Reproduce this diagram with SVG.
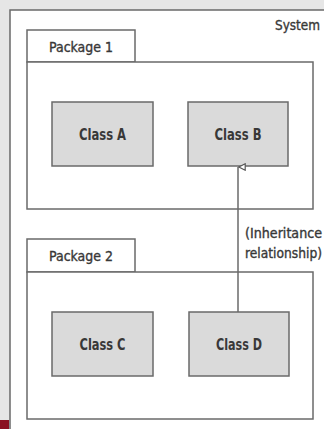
<svg xmlns="http://www.w3.org/2000/svg" width="324" height="429" viewBox="0 0 324 429">
<style>
.pkg{fill:#fff;stroke:#6a6a6a;stroke-width:1.5}
.cls{fill:#dadada;stroke:#6a6a6a;stroke-width:1.5}
text{font-family:"DejaVu Sans Condensed","Liberation Sans",Arial,sans-serif;fill:#383838;font-size:14px;stroke:#383838;stroke-width:0.35}
.cl{font-weight:bold;font-size:16px;text-anchor:middle;stroke:none}
.conn{stroke:#6a6a6a;stroke-width:1.5;fill:none}
</style>
<defs>
<marker id="tri" viewBox="0 0 10 10" refX="5" refY="0" markerWidth="8" markerHeight="8" markerUnits="userSpaceOnUse" orient="auto-start-reverse">
<path d="M1,9 L5,1 L9,9 Z" fill="#fff" stroke="#555" stroke-width="1.5"/>
</marker>
</defs>
<rect x="0" y="0" width="324" height="429" fill="#e6e6e6"/>
<rect x="0" y="420" width="9" height="9" fill="#8a1020"/>
<g id="system">
<rect x="10" y="10" width="320" height="430" fill="#fff" stroke="#6a6a6a" stroke-width="1.5"/>
<text x="275" y="30" textLength="45" lengthAdjust="spacingAndGlyphs">System</text>
</g>
<g id="package1">
<rect class="pkg" x="27" y="30" width="108" height="32"/>
<rect class="pkg" x="27" y="62" width="286" height="147"/>
<text x="49" y="52" textLength="64" lengthAdjust="spacingAndGlyphs">Package 1</text>
</g>
<g id="package2">
<rect class="pkg" x="27" y="239" width="108" height="33"/>
<rect class="pkg" x="27" y="272" width="286" height="147"/>
<text x="49" y="261" textLength="64" lengthAdjust="spacingAndGlyphs">Package 2</text>
</g>
<g id="classA">
<rect class="cls" x="52" y="102" width="101" height="64"/>
<text class="cl" x="102.5" y="140" textLength="47" lengthAdjust="spacingAndGlyphs">Class A</text>
</g>
<g id="classB">
<rect class="cls" x="188" y="102" width="100" height="64"/>
<text class="cl" x="238" y="140" textLength="47" lengthAdjust="spacingAndGlyphs">Class B</text>
</g>
<g id="classC">
<rect class="cls" x="52" y="312" width="101" height="64"/>
<text class="cl" x="102.5" y="350" textLength="46" lengthAdjust="spacingAndGlyphs">Class C</text>
</g>
<g id="classD">
<rect class="cls" x="189" y="312" width="100" height="64"/>
<text class="cl" x="239" y="350" textLength="46" lengthAdjust="spacingAndGlyphs">Class D</text>
</g>
<g id="connectors">
<line class="conn" x1="238" y1="312" x2="238" y2="167" marker-end="url(#tri)"/>
<text x="245" y="238" textLength="77" lengthAdjust="spacingAndGlyphs">(Inheritance</text>
<text x="245" y="258" textLength="77" lengthAdjust="spacingAndGlyphs">relationship)</text>
</g>
</svg>
